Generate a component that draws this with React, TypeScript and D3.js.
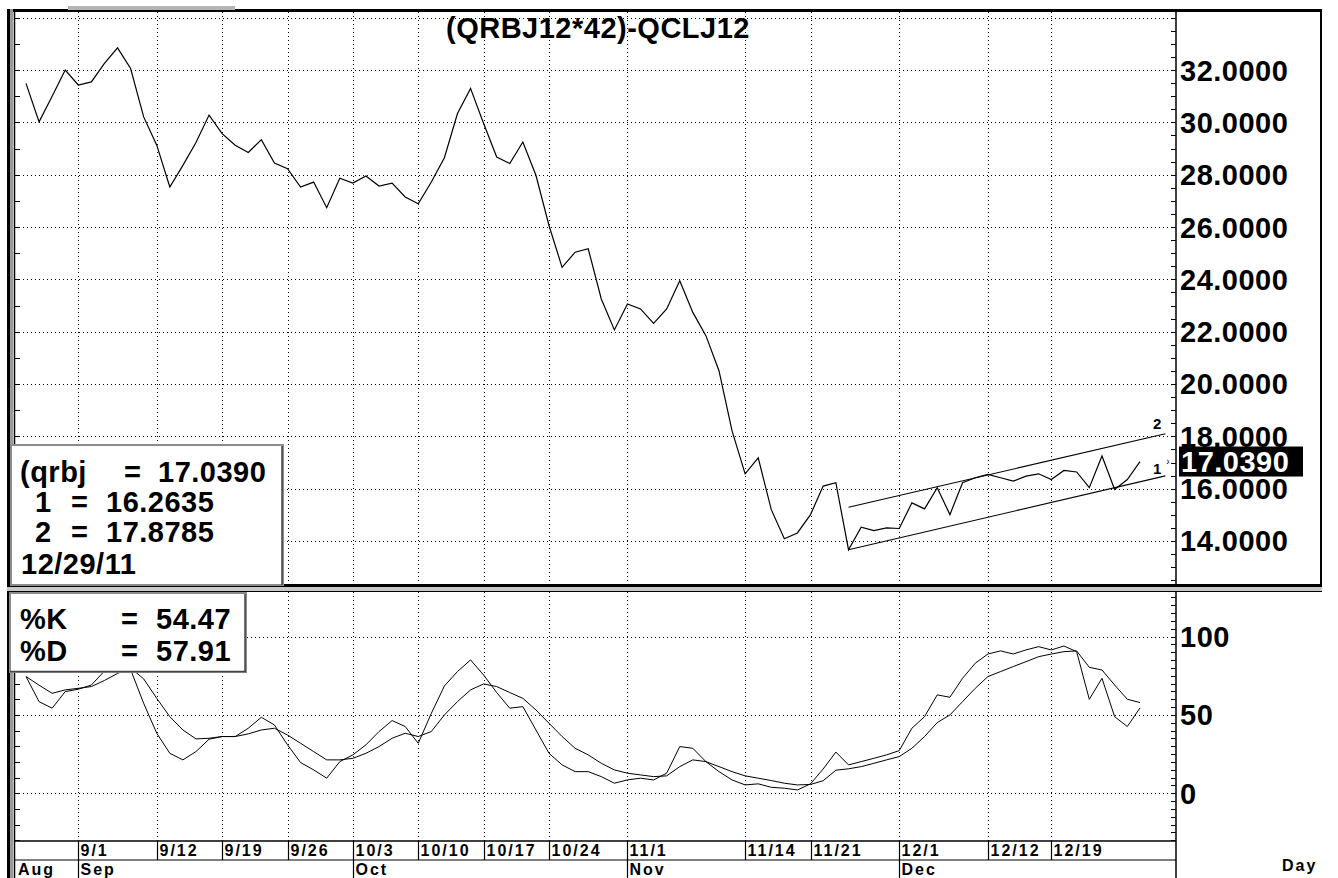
import React from "react";
import * as d3 from "d3";

// trading days, 8/26/11 .. 12/29/11
const tradingDays = [
  "8/26", "8/29", "8/30", "8/31",
  "9/1", "9/2", "9/6", "9/7", "9/8", "9/9", "9/12", "9/13", "9/14", "9/15", "9/16",
  "9/19", "9/20", "9/21", "9/22", "9/23", "9/26", "9/27", "9/28", "9/29", "9/30",
  "10/3", "10/4", "10/5", "10/6", "10/7", "10/10", "10/11", "10/12", "10/13", "10/14",
  "10/17", "10/18", "10/19", "10/20", "10/21", "10/24", "10/25", "10/26", "10/27", "10/28", "10/31",
  "11/1", "11/2", "11/3", "11/4", "11/7", "11/8", "11/9", "11/10", "11/11",
  "11/14", "11/15", "11/16", "11/17", "11/18", "11/21", "11/22", "11/23", "11/25",
  "11/28", "11/29", "11/30",
  "12/1", "12/2", "12/5", "12/6", "12/7", "12/8", "12/9", "12/12", "12/13", "12/14", "12/15", "12/16",
  "12/19", "12/20", "12/21", "12/22", "12/23", "12/27", "12/28", "12/29",
];

const spread = [
  31.49, 30.02, 31.0, 32.0,
  31.43, 31.55, 32.26, 32.85, 32.06, 30.21, 29.13, 27.53, 28.36, 29.23, 30.28,
  29.57, 29.13, 28.85, 29.34, 28.45, 28.23, 27.53, 27.72, 26.74, 27.87,
  27.68, 27.95, 27.57, 27.68, 27.15, 26.89, 27.72, 28.65, 30.34, 31.3,
  29.96, 28.68, 28.43, 29.25, 27.98, 26.06, 24.46, 25.04, 25.17, 23.25, 22.07,
  23.06, 22.87, 22.32, 22.87, 23.95, 22.74, 21.85, 20.51, 18.21,
  16.57, 17.18, 15.2, 14.09, 14.31, 15.01, 16.1, 16.23, 13.67,
  14.53, 14.4, 14.5,
  14.48, 15.46, 15.23, 16.04, 15.01, 16.23, 16.42, 16.55, 16.42, 16.29, 16.48, 16.57,
  16.35, 16.7, 16.64, 16.04, 17.25, 15.97, 16.35, 17.039,
];

const pctK = [
  74.5, 58.5, 54.3, 64.9,
  66.4, 69.1, 78, 85, 79, 57.4, 38.3, 25.5, 21.3, 26.6, 34.5,
  36.2, 36.2, 41.5, 48.5, 43.6, 30.9, 19.6, 14.9, 9.6, 20.2,
  24.5, 30.9, 39.4, 46.4, 42.6, 31.9, 51, 68.5, 77.7, 85.1,
  75.5, 64.3, 54.3, 55.3, 40.4, 25.5, 18.1, 13.8, 13.8, 10.6, 6.4,
  8.5, 9.6, 8.5, 12.8, 29.8, 28.7, 20.2, 13.8, 8.5,
  5.3, 6.0, 3.8, 3.2, 2.1, 6.0, 15.5, 26.3, 18.1,
  20.2, 22.3, 24.5,
  27.2, 41.5, 48.9, 62.8, 61.3, 73.4, 83.0, 88.9, 90.9, 88.9, 91.5, 93.6,
  91.5, 94.0, 90.4, 60.0, 73.4, 48.9, 42.6, 54.47,
];

const pctD = [
  74.5, 69, 63.8, 66,
  67, 68.1, 72, 76.5, 80, 73, 60.6, 48.9, 40.4, 34.7, 35.1,
  36.2, 36.2, 37.9, 40.4, 41.5, 37.2, 31.9, 26.6, 21.3, 21.3,
  22.3, 25.5, 29.8, 35.1, 38.3, 36.2, 39.4, 50, 58.5, 66,
  69.8, 68.1, 64.3, 60.6, 53.2, 44.7, 36.2, 28.7, 24.5, 19.1, 14.9,
  12.8, 11.7, 10.6, 11.1, 17.0, 21.3, 20.2, 17.0, 13.8,
  11.1, 9.6, 8.1, 6.4, 5.3, 5.6, 8.0, 14.7, 15.6,
  17.0, 19.1, 21.3,
  23.4, 28.7, 36.2, 45.1, 50.0, 58.5, 67.0, 74.5, 77.7, 80.9, 84.0, 87.2,
  88.9, 90.4, 90.9, 80.4, 78.7, 69.1, 60.0, 57.91,
];

// channel lines (start at the 11/25 low, run two days past the last bar)
const channelPos = [63, 88];
const channelLower = [13.67, 16.49];
const channelUpper = [15.29, 18.1];

const dateTicks = ["9/1", "9/12", "9/19", "9/26", "10/3", "10/10", "10/17", "10/24", "11/1", "11/14", "11/21", "12/1", "12/12", "12/19"];
const monthTicks = [["Sep", "9/1"], ["Oct", "10/3"], ["Nov", "11/1"], ["Dec", "12/1"]];
const priceTicks = [14, 16, 18, 20, 22, 24, 26, 28, 30, 32];
const stochTicks = [0, 50, 100];

const priceReadout = [["(qrbj", "17.0390"], ["1", "16.2635"], ["2", "17.8785"]];
const readoutDate = "12/29/11";
const stochReadout = [["%K", "54.47"], ["%D", "57.91"]];

const W = 1338, H = 878;
const plotL = 15, plotR = 1176, frameR = 1321;
const priceTop = 12, priceBot = 585, stochTop = 592, stochBot = 841, dateBot = 860;
const FONT = "'Liberation Sans', Arial, sans-serif";

export default function App() {
  const x = d3.scaleLinear().domain([4, 60, 86]).range([78.3, 810.5, 1140]);
  const yP = d3.scaleLinear().domain([12.32, 34.22]).range([priceBot, priceTop]);
  const yS = d3.scaleLinear().domain([-30.5, 128.5]).range([stochBot, stochTop]);
  const fmt4 = d3.format(".4f");
  const px = (v: number) => Math.round(v) + 0.5;

  const priceLine = d3.line<number>().x((_, i) => x(i)).y(d => yP(d));
  const stochLine = d3.line<number>().x((_, i) => x(i)).y(d => yS(d));
  const chanLine = (vals: number[]) =>
    d3.line<number>().x((_, i) => x(channelPos[i])).y(d => yP(d))(vals) || "";

  const dayX = (d: string) => px(x(tradingDays.indexOf(d)));
  const last = spread[spread.length - 1];

  const dot = { stroke: "#000", strokeWidth: 1, strokeDasharray: "1 3", shapeRendering: "crispEdges" as const };
  const big = { fontFamily: FONT, fontWeight: 700, fontSize: 29, letterSpacing: 0.5 };
  const small = { fontFamily: FONT, fontWeight: 700, fontSize: 16, letterSpacing: 2 };

  return (
    <svg width={W} height={H} style={{ position: "absolute", left: 0, top: 0, background: "#fff" }}>
      <rect width={W} height={H} fill="#fff" />
      <defs>
        <clipPath id="pclip"><rect x={plotL} y={priceTop} width={plotR - plotL} height={priceBot - priceTop} /></clipPath>
        <clipPath id="sclip"><rect x={plotL} y={stochTop} width={plotR - plotL} height={stochBot - stochTop} /></clipPath>
      </defs>

      {/* grid */}
      {d3.range(14, 35, 2).map(v => (
        <line key={"pg" + v} x1={plotL} x2={plotR} y1={px(yP(v))} y2={px(yP(v))} {...dot} />
      ))}
      {stochTicks.map(v => (
        <line key={"sg" + v} x1={plotL} x2={plotR} y1={px(yS(v))} y2={px(yS(v))} {...dot} />
      ))}
      {dateTicks.map(d => (
        <g key={"vg" + d}>
          <line x1={dayX(d)} x2={dayX(d)} y1={priceTop} y2={priceBot} {...dot} />
          <line x1={dayX(d)} x2={dayX(d)} y1={stochTop} y2={stochBot} {...dot} />
        </g>
      ))}

      {/* price */}
      <g clipPath="url(#pclip)">
        <path d={priceLine(spread) || ""} fill="none" stroke="#000" strokeWidth={1.2} />
        <path d={chanLine(channelLower)} fill="none" stroke="#000" strokeWidth={1.1} />
        <path d={chanLine(channelUpper)} fill="none" stroke="#000" strokeWidth={1.1} />
        <text x={x(channelPos[1]) - 4} y={yP(channelUpper[1]) - 5} textAnchor="end"
          style={{ fontFamily: FONT, fontWeight: 700, fontSize: 15 }}>2</text>
        <text x={x(channelPos[1]) - 4} y={yP(channelLower[1]) - 2} textAnchor="end"
          style={{ fontFamily: FONT, fontWeight: 700, fontSize: 15 }}>1</text>
        <text x={x(channelPos[1]) + 1} y={yP(channelLower[1]) - 11}
          style={{ fontFamily: FONT, fontSize: 10 }}>›</text>
      </g>

      {/* stochastic */}
      <g clipPath="url(#sclip)">
        <path d={stochLine(pctD) || ""} fill="none" stroke="#000" strokeWidth={1} />
        <path d={stochLine(pctK) || ""} fill="none" stroke="#000" strokeWidth={1} />
      </g>

      {/* axis ticks */}
      {d3.range(13, 35, 1).map(v => (
        <line key={"lt" + v} x1={plotL} x2={plotL + 5} y1={px(yP(v))} y2={px(yP(v))} stroke="#000" />
      ))}
      {d3.range(12.5, 34.1, 0.5).map(v => (
        <line key={"rt" + v} x1={plotR - 5} x2={plotR} y1={px(yP(v))} y2={px(yP(v))} stroke="#000" />
      ))}
      {d3.range(-30, 129, 10).map(v => (
        <line key={"slt" + v} x1={plotL} x2={plotL + 5} y1={px(yS(v))} y2={px(yS(v))} stroke="#000" />
      ))}
      {d3.range(-30, 129, 5).map(v => (
        <line key={"srt" + v} x1={plotR - 5} x2={plotR} y1={px(yS(v))} y2={px(yS(v))} stroke="#000" />
      ))}

      {/* frames */}
      <rect x={7} y={9} width={frameR - 7} height={3} fill="#000" />
      <rect x={68} y={6} width={167} height={4} fill="#b4b4b4" />
      <rect x={7} y={9} width={3} height={H - 9} fill="#000" />
      <rect x={10} y={9} width={3} height={H - 9} fill="#9a9a9a" />
      <line x1={14.5} x2={14.5} y1={priceTop} y2={H} stroke="#000" strokeWidth={1.5} />
      <line x1={frameR} x2={frameR} y1={9} y2={587} stroke="#000" strokeWidth={2} />
      <rect x={7} y={584} width={frameR - 6} height={3} fill="#000" />
      <rect x={7} y={587} width={frameR - 6} height={4} fill="#c8c8c8" />
      <line x1={7} x2={frameR + 1} y1={591.5} y2={591.5} stroke="#000" strokeWidth={1.2} />
      <line x1={plotR} x2={plotR} y1={priceTop} y2={priceBot} stroke="#000" strokeWidth={1.5} />
      <line x1={plotR} x2={plotR} y1={stochTop} y2={H} stroke="#000" strokeWidth={1.5} />
      <line x1={plotL} x2={plotR} y1={stochBot} y2={stochBot} stroke="#000" strokeWidth={1.5} />
      <line x1={plotL} x2={plotR} y1={dateBot} y2={dateBot} stroke="#000" strokeWidth={1.2} />

      {/* title */}
      <text x={598} y={38} textAnchor="middle" style={big}>(QRBJ12*42)-QCLJ12</text>

      {/* right axis labels */}
      {priceTicks.map(v => (
        <text key={"pl" + v} x={plotR + 4} y={yP(v)} dy="0.36em" style={big}>{fmt4(v)}</text>
      ))}
      {stochTicks.map(v => (
        <text key={"sl" + v} x={plotR + 4} y={yS(v)} dy="0.36em" style={big}>{v}</text>
      ))}
      <rect x={plotR + 3} y={yP(last) - 15} width={124} height={30} fill="#000" />
      <text x={plotR + 5} y={yP(last)} dy="0.36em" style={{ ...big, fill: "#fff" }}>{fmt4(last)}</text>

      {/* date axis */}
      {dateTicks.map(d => (
        <g key={"dt" + d}>
          <line x1={dayX(d)} x2={dayX(d)} y1={stochBot} y2={dateBot} stroke="#000" strokeWidth={1.2} />
          <text x={dayX(d) + 2} y={856} style={small}>{d}</text>
        </g>
      ))}
      <text x={18} y={875} style={small}>Aug</text>
      {monthTicks.map(([m, d]) => (
        <g key={"mt" + m}>
          <line x1={dayX(d)} x2={dayX(d)} y1={dateBot} y2={H} stroke="#000" strokeWidth={1.2} />
          <text x={dayX(d) + 2} y={875} style={small}>{m}</text>
        </g>
      ))}
      <text x={1282} y={871} style={small}>Day</text>

      {/* price readout box */}
      <rect x={11} y={445} width={272} height={140} fill="#fff" stroke="#8c8c8c" strokeWidth={2} />
      <line x1={282} x2={282} y1={446} y2={585} stroke="#444" strokeWidth={1.5} />
      {priceReadout.map(([k, v], i) => (
        <g key={"pr" + i} style={big}>
          <text x={i === 0 ? 20 : 35} y={482 + i * 30}>{k}</text>
          <text x={i === 0 ? 124 : 71} y={482 + i * 30}>=</text>
          <text x={i === 0 ? 158 : 106} y={482 + i * 30}>{v}</text>
        </g>
      ))}
      <text x={21} y={574} style={big}>{readoutDate}</text>

      {/* stochastic readout box */}
      <rect x={10} y={593} width={236} height={79} fill="#fff" stroke="#8c8c8c" strokeWidth={2} />
      <line x1={245} x2={245} y1={594} y2={672} stroke="#444" strokeWidth={1.5} />
      <line x1={10} x2={246} y1={671.5} y2={671.5} stroke="#444" strokeWidth={1.5} />
      {stochReadout.map(([k, v], i) => (
        <g key={"sr" + i} style={big}>
          <text x={20} y={629 + i * 32}>{k}</text>
          <text x={121} y={629 + i * 32}>=</text>
          <text x={156} y={629 + i * 32}>{v}</text>
        </g>
      ))}
    </svg>
  );
}
